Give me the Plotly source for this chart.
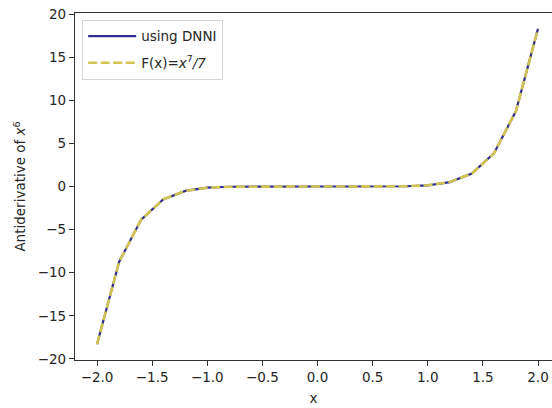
import plotly.graph_objects as go

# sample points on [-2, 2]
x_vals = [-2.0, -1.8, -1.6, -1.4, -1.2, -1.0, -0.8, -0.6, -0.4, -0.2, 0.0,
          0.2, 0.4, 0.6, 0.8, 1.0, 1.2, 1.4, 1.6, 1.8, 2.0]

# antiderivative predicted by the network
dnni_vals = [-18.30, -8.74, -3.84, -1.50, -0.51, -0.14, -0.03, -0.004, 0.0, 0.0, 0.0,
             0.0, 0.0, 0.004, 0.03, 0.14, 0.51, 1.50, 3.84, 8.74, 18.30]

# exact antiderivative x^7/7
exact_vals = [-18.286, -8.748, -3.835, -1.506, -0.512, -0.143, -0.030, -0.004, -0.0002, 0.0, 0.0,
              0.0, 0.0002, 0.004, 0.030, 0.143, 0.512, 1.506, 3.835, 8.748, 18.286]

x_ticks = [-2.0, -1.5, -1.0, -0.5, 0.0, 0.5, 1.0, 1.5, 2.0]
y_ticks = [-20, -15, -10, -5, 0, 5, 10, 15, 20]

font = "DejaVu Sans, Liberation Sans, sans-serif"
axis_color = "#333333"
tick_color = "#262626"

fig = go.Figure()
fig.add_trace(go.Scatter(
    x=x_vals, y=dnni_vals, mode="lines", name="using DNNI", legendgroup="dnni",
    line=dict(color="#2e2e93", width=2.2),
))
fig.add_trace(go.Scatter(
    x=x_vals, y=exact_vals, mode="lines", name="F(x)=<i>x</i><sup>7</sup><i>/7</i>",
    legendgroup="exact",
    line=dict(color="#d2c450", width=2.6, dash="9px,3.5px"),
))

fig.update_layout(
    width=552, height=408,
    margin=dict(l=75, r=0, t=13, b=48),
    paper_bgcolor="white", plot_bgcolor="white",
    font=dict(family=font, size=13.5, color=tick_color),
    showlegend=True,
    legend=dict(
        x=0.015, y=0.98, xanchor="left", yanchor="top",
        bgcolor="rgba(255,255,255,0.8)", bordercolor="#d6d6d6", borderwidth=1,
        font=dict(family=font, size=13.5, color=tick_color),
        tracegroupgap=6, itemwidth=48,
    ),
    xaxis=dict(
        range=[-2.2, 2.127], tickvals=x_ticks,
        ticktext=[f"{t:.1f}".replace("-", "\u2212") for t in x_ticks],
        showgrid=False, zeroline=False,
        showline=True, linecolor=axis_color, linewidth=1.2, mirror=True,
        ticks="outside", ticklen=5, tickwidth=1.1, tickcolor=axis_color,
        title=dict(text="x", font=dict(family=font, size=13.5, color=tick_color), standoff=9),
    ),
    yaxis=dict(
        range=[-20.12, 20.12], tickvals=y_ticks,
        ticktext=[str(t).replace("-", "\u2212") for t in y_ticks],
        showgrid=False, zeroline=False,
        showline=True, linecolor=axis_color, linewidth=1.2,
        ticks="outside", ticklen=5, tickwidth=1.1, tickcolor=axis_color,
        title=dict(text="Antiderivative of <i>x</i><sup>6</sup>",
                   font=dict(family=font, size=13.5, color=tick_color), standoff=8),
    ),
)

fig.write_html("out.html")
